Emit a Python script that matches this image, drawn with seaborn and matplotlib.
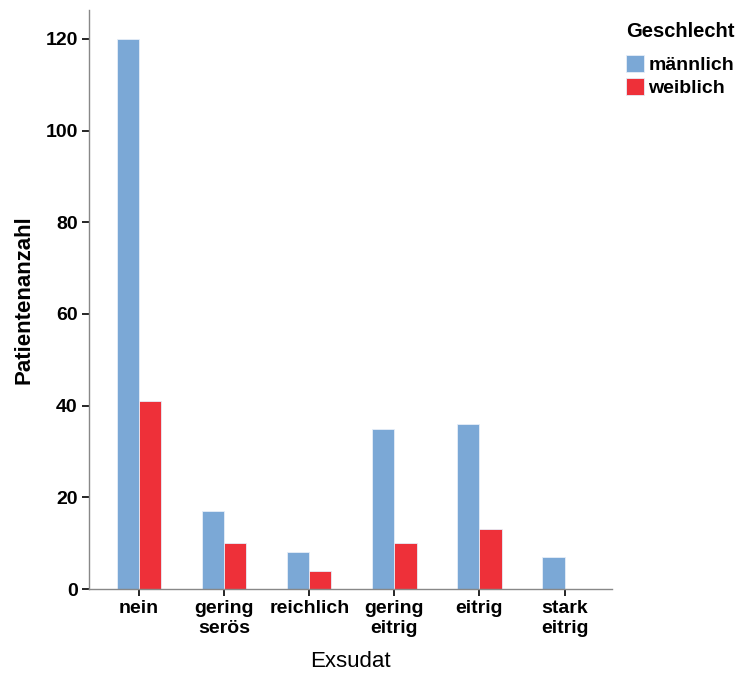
#!/usr/bin/env python3
# -*- coding: utf-8 -*-
"""
Exsudat nach Geschlecht - gruppiertes Balkendiagramm
"""

import pandas as pd
import matplotlib
matplotlib.use('Agg')
import matplotlib.pyplot as plt
import seaborn as sns

# Daten
kategorien = ['nein', 'gering\nserös', 'reichlich', 'gering\neitrig', 'eitrig', 'stark\neitrig']
maennlich = [120, 17, 8, 35, 36, 7]
weiblich = [41, 10, 4, 10, 13, 0]
geschlechter = ['männlich', 'weiblich']

farben = {'männlich': '#7BA8D6', 'weiblich': '#EE3039'}

df = pd.DataFrame({
    'Exsudat': kategorien * 2,
    'Geschlecht': ['männlich'] * len(kategorien) + ['weiblich'] * len(kategorien),
    'Patientenanzahl': maennlich + weiblich,
})

sns.set_style('white')
plt.rcParams['font.family'] = ['Liberation Sans', 'DejaVu Sans']
plt.rcParams['text.color'] = 'black'
plt.rcParams['axes.labelcolor'] = 'black'
plt.rcParams['xtick.color'] = 'black'
plt.rcParams['ytick.color'] = 'black'

fig = plt.figure(figsize=(7.39, 6.8), dpi=100)
ax = fig.add_axes([0.1204, 0.1338, 0.708, 0.8515])

sns.barplot(
    data=df, x='Exsudat', y='Patientenanzahl', hue='Geschlecht',
    hue_order=geschlechter, order=kategorien, palette=farben,
    saturation=1, width=0.52, gap=0, edgecolor='#e6eef8', linewidth=0.6,
    errorbar=None, ax=ax,
)

ax.set_ylim(0, 126.3)
ax.set_xlim(-0.59, 5.56)
ax.set_yticks([0, 20, 40, 60, 80, 100, 120])

for side in ['top', 'right']:
    ax.spines[side].set_visible(False)
for side in ['left', 'bottom']:
    ax.spines[side].set_color('#888888')
    ax.spines[side].set_linewidth(1.0)

ax.tick_params(axis='both', which='both', direction='out', length=5, width=1.2,
               color='black', labelsize=14, bottom=True, left=True, pad=3)
for lab in ax.get_xticklabels() + ax.get_yticklabels():
    lab.set_fontweight('bold')

ax.set_xlabel('Exsudat', fontsize=16, fontweight='normal', labelpad=10)
ax.set_ylabel('Patientenanzahl', fontsize=16, fontweight='semibold', labelpad=8)

leg = ax.legend(title='Geschlecht', loc='upper left', bbox_to_anchor=(1.0, 1.002),
                frameon=False, fontsize=14, title_fontsize=14.5,
                handlelength=0.95, handleheight=0.95, handletextpad=0.2,
                labelspacing=0.2, borderaxespad=0.3)
leg.get_title().set_fontweight('bold')
for t in leg.get_texts():
    t.set_fontweight('bold')
# mehr Abstand zwischen Titel und Einträgen
leg._legend_box.sep = 10

fig.savefig('out.png', dpi=100, facecolor='white')
